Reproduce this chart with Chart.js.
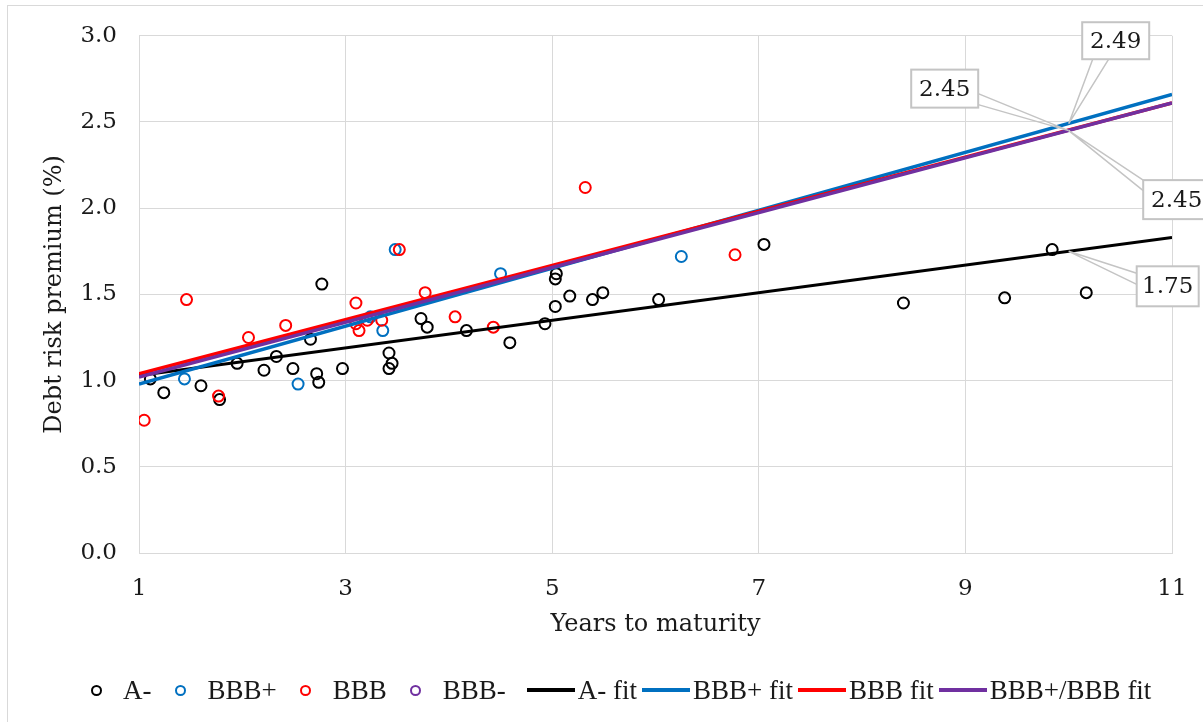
<!DOCTYPE html>
<html>
<head>
<meta charset="utf-8">
<script src="https://cdn.jsdelivr.net/npm/chart.js@4.4.0/dist/chart.umd.min.js"></script>
<style>
  html, body { margin: 0; padding: 0; background: #fff; }
  #wrap { position: relative; width: 1203px; height: 722px; overflow: hidden; background: #fff; }
  #frame { position: absolute; left: 7px; top: 5px; width: 1230px; height: 760px; border: 1px solid #d9d9d9; }
  #chart { position: absolute; left: 0; top: 0; }
  #legend {
    position: absolute; left: 86px; top: 672px; height: 36px;
    display: flex; align-items: center;
    font-family: 'Liberation Serif', serif; font-size: 27px; color: #1a1a1a; white-space: nowrap;
  }
  .item { display: flex; align-items: center; }
  .dot { width: 20px; display: flex; justify-content: center; }
  .dot span { width: 7px; height: 7px; border-radius: 50%; border: 2px solid #000; box-sizing: content-box; }
  .dot-item .txt { margin-left: 17px; margin-right: 19px; }
  .line-item { margin-left: 2px; }
  .line-item .bar { width: 48px; height: 4px; }
  .line-item .txt { margin-left: 3px; margin-right: 3px; }
</style>
</head>
<body>
<div id="wrap">
  <div id="frame"></div>
  <canvas id="chart" width="1203" height="722"></canvas>
  <div id="legend"></div>
</div>
<script>
// scatter data (years to maturity, premium %)
const aMinusX = [1.11, 1.24, 1.60, 1.78, 1.95, 2.21, 2.33, 2.49, 2.66, 2.72, 2.74, 2.77, 2.97,
                 3.42, 3.45, 3.42, 3.73, 3.79, 4.17, 4.59, 4.93, 5.03, 5.03, 5.04, 5.17, 5.39,
                 5.49, 6.03, 7.05, 8.40, 9.38, 9.84, 10.17];
const aMinusY = [1.01, 0.93, 0.97, 0.89, 1.10, 1.06, 1.14, 1.07, 1.24, 1.04, 0.99, 1.56, 1.07,
                 1.16, 1.10, 1.07, 1.36, 1.31, 1.29, 1.22, 1.33, 1.43, 1.59, 1.62, 1.49, 1.47,
                 1.51, 1.47, 1.79, 1.45, 1.48, 1.76, 1.51];
const bbbPlusX = [1.44, 2.54, 3.24, 3.36, 3.48, 4.50, 6.25];
const bbbPlusY = [1.01, 0.98, 1.37, 1.29, 1.76, 1.62, 1.72];
const bbbX = [1.05, 1.46, 1.77, 2.06, 2.42, 3.10, 3.10, 3.13, 3.21, 3.35, 3.52, 3.77, 4.06, 4.43, 5.32, 6.77];
const bbbY = [0.77, 1.47, 0.91, 1.25, 1.32, 1.45, 1.33, 1.29, 1.35, 1.35, 1.76, 1.51, 1.37, 1.31, 2.12, 1.73];
const bbbMinusX = [];
const bbbMinusY = [];

// fitted lines, end points read at x = 1 and x = 11
const fitX = [1, 11];
const aMinusFitY = [1.03, 1.83];
const bbbPlusFitY = [0.98, 2.66];
const bbbFitY = [1.04, 2.61];
const bbbPlusBbbFitY = [1.02, 2.61];

const xTicks = [1, 3, 5, 7, 9, 11];
const yTicks = [0, 0.5, 1.0, 1.5, 2.0, 2.5, 3.0];

// data labels shown at x = 10
const calloutX = 10;
const calloutValues = [2.49, 2.45, 2.45, 1.75];

const pts = (xs, ys) => xs.map((x, i) => ({ x: x, y: ys[i] }));

const serif = '"DejaVu Serif", Georgia, serif';
const textColor = '#1a1a1a';

function scatterSet(label, xs, ys, color, order) {
  return {
    label: label, data: pts(xs, ys), showLine: false, order: order,
    pointRadius: 5.5, pointHoverRadius: 5.5, pointBorderWidth: 2,
    borderColor: color, backgroundColor: 'rgba(0,0,0,0)', kind: 'dot'
  };
}
function fitSet(label, ys, color, width, order) {
  return {
    label: label, data: pts(fitX, ys), showLine: true, order: order,
    borderColor: color, backgroundColor: color, borderWidth: width,
    pointRadius: 0, pointHoverRadius: 0, kind: 'line'
  };
}

const datasets = [
  scatterSet('A-', aMinusX, aMinusY, '#000000', 7),
  scatterSet('BBB+', bbbPlusX, bbbPlusY, '#0070c0', 6),
  scatterSet('BBB', bbbX, bbbY, '#ff0000', 5),
  scatterSet('BBB-', bbbMinusX, bbbMinusY, '#7030a0', 4),
  fitSet('A- fit', aMinusFitY, '#000000', 3, 3),
  fitSet('BBB+ fit', bbbPlusFitY, '#0070c0', 3.5, 2),
  fitSet('BBB fit', bbbFitY, '#ff0000', 3.5, 1),
  fitSet('BBB+/BBB fit', bbbPlusBbbFitY, '#7030a0', 3.5, 0)
];

// box centre offsets from the anchor, and wedge base points relative to box centre
const calloutBoxes = [
  { dx: 47, dy: -83, w: 67, h: 37, base: [[-23, 18.5], [-7, 18.5]] },
  { dx: -124, dy: -42, w: 67, h: 38, base: [[33.5, 5], [33.5, 16]] },
  { dx: 108, dy: 69, w: 67, h: 39, base: [[-33.5, -19.5], [-33.5, -9]] },
  { dx: 99, dy: 35, w: 62, h: 40, base: [[-31, -13], [-31, -2]] }
];

const calloutPlugin = {
  id: 'callouts',
  afterDatasetsDraw(chart) {
    const ctx = chart.ctx;
    const xs = chart.scales.x, ys = chart.scales.y;
    ctx.save();
    calloutValues.forEach((v, i) => {
      const b = calloutBoxes[i];
      const ax = xs.getPixelForValue(calloutX);
      const ay = ys.getPixelForValue(v);
      const cx = ax + b.dx, cy = ay + b.dy;
      ctx.lineWidth = 1.5;
      ctx.strokeStyle = '#c4c4c4';
      ctx.beginPath();
      ctx.moveTo(cx + b.base[0][0], cy + b.base[0][1]);
      ctx.lineTo(ax, ay);
      ctx.lineTo(cx + b.base[1][0], cy + b.base[1][1]);
      ctx.stroke();
      ctx.lineWidth = 2;
      ctx.fillStyle = '#ffffff';
      ctx.fillRect(cx - b.w / 2, cy - b.h / 2, b.w, b.h);
      ctx.strokeRect(cx - b.w / 2, cy - b.h / 2, b.w, b.h);
      ctx.fillStyle = textColor;
      ctx.font = '23px ' + serif;
      ctx.textAlign = 'center';
      ctx.textBaseline = 'middle';
      ctx.fillText(v.toFixed(2), cx, cy + 1);
    });
    ctx.restore();
  }
};

new Chart(document.getElementById('chart'), {
  type: 'scatter',
  data: { datasets: datasets },
  options: {
    responsive: false,
    animation: false,
    layout: { padding: { left: 8, right: 31, top: 33, bottom: 69 } },
    plugins: { legend: { display: false }, tooltip: { enabled: false } },
    scales: {
      x: {
        type: 'linear', min: 1, max: 11,
        afterBuildTicks: s => { s.ticks = xTicks.map(v => ({ value: v })); },
        afterFit: s => { s.height = 100; },
        // invisible tick marks push the labels down without widening the side padding
        grid: { color: '#d9d9d9', drawTicks: true, tickLength: 8, tickColor: 'rgba(0,0,0,0)' },
        border: { color: '#d9d9d9' },
        ticks: { color: textColor, font: { family: serif, size: 23 }, padding: 14 },
        title: { display: true, text: 'Years to maturity', color: textColor,
                 font: { family: serif, size: 24 }, padding: { top: 0, bottom: 14 } }
      },
      y: {
        type: 'linear', min: 0, max: 3,
        afterBuildTicks: s => { s.ticks = yTicks.map(v => ({ value: v })); },
        afterFit: s => { s.width = 131; },
        grid: { color: '#d9d9d9', drawTicks: false },
        border: { color: '#d9d9d9' },
        ticks: { color: textColor, font: { family: serif, size: 23 }, padding: 22,
                 callback: v => Number(v).toFixed(1) },
        title: { display: true, text: 'Debt risk premium (%)', color: textColor,
                 font: { family: serif, size: 24 }, padding: { top: 32, bottom: 0 } }
      }
    }
  },
  plugins: [calloutPlugin]
});

// legend in the same order as the reference
const legend = document.getElementById('legend');
datasets.forEach(ds => {
  const item = document.createElement('div');
  const txt = document.createElement('span');
  txt.className = 'txt';
  txt.textContent = ds.label;
  if (ds.kind === 'dot') {
    item.className = 'item dot-item';
    const box = document.createElement('span');
    box.className = 'dot';
    const c = document.createElement('span');
    c.style.borderColor = ds.borderColor;
    box.appendChild(c);
    item.appendChild(box);
  } else {
    item.className = 'item line-item';
    const bar = document.createElement('span');
    bar.className = 'bar';
    bar.style.background = ds.borderColor;
    item.appendChild(bar);
  }
  item.appendChild(txt);
  legend.appendChild(item);
});
</script>
</body>
</html>
